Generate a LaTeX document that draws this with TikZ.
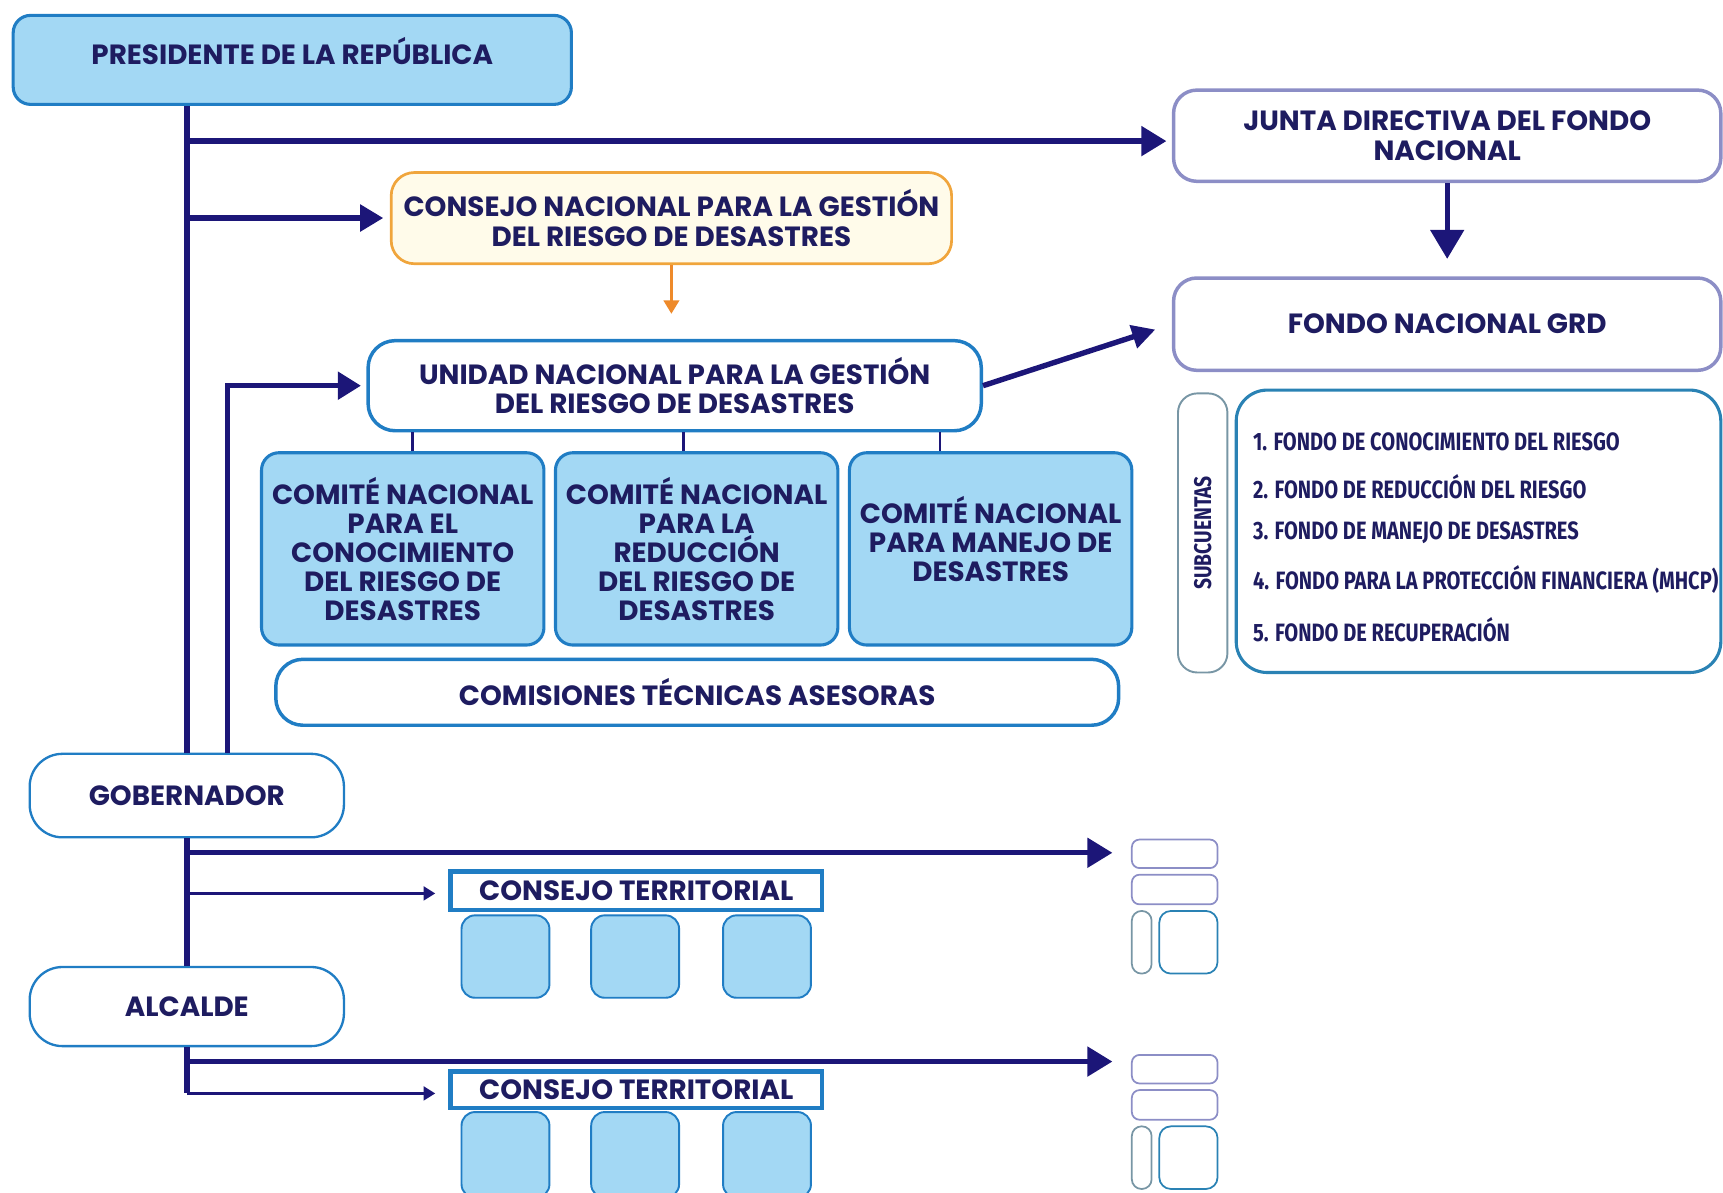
\documentclass[tikz,border=0pt]{standalone}
\usepackage{fontspec}
\setmainfont{Poppins}
\newfontfamily\narrowfont[FakeStretch=0.8]{Fira Sans}
\usetikzlibrary{arrows.meta,calc}

\definecolor{navy}{RGB}{28,22,120}
\definecolor{ink}{RGB}{30,28,96}
\definecolor{skyfill}{RGB}{163,216,244}
\definecolor{skyline}{RGB}{32,125,196}
\definecolor{lavline}{RGB}{140,142,198}
\definecolor{orangeline}{RGB}{240,165,60}
\definecolor{orangearrow}{RGB}{238,138,42}
\definecolor{creamfill}{RGB}{255,251,234}
\definecolor{grayline}{RGB}{120,150,165}
\definecolor{tealline}{RGB}{42,130,180}

\begin{document}
\begin{tikzpicture}[x=0.02cm, y=-0.02cm,
	every node/.style={font=\bfseries\fontsize{14.4}{15.3}\selectfont, text=ink, align=center, inner sep=0pt},
	sz/.style 2 args={minimum width=#1*0.02cm, minimum height=#2*0.02cm},
	bluebox/.style={draw=skyline, fill=skyfill, line width=1.6pt, rounded corners=9pt},
	combox/.style={bluebox, font=\bfseries\fontsize{14.4}{15}\selectfont},
	whitebox/.style={draw=skyline, fill=white, line width=1.8pt, rounded corners=14pt},
	govbox/.style={draw=skyline, fill=white, line width=1.2pt, rounded corners=17pt},
	lavbox/.style={draw=lavline, fill=white, line width=1.8pt, rounded corners=12pt},
	orangebox/.style={draw=orangeline, fill=creamfill, line width=1.4pt, rounded corners=12pt},
	ctbox/.style={draw=skyline, fill=white, line width=2.2pt},
	mini/.style={draw=lavline, line width=0.9pt, rounded corners=4pt},
	item/.style={anchor=west, font=\narrowfont\bfseries\fontsize{13}{15}\selectfont},
	link/.style={draw=navy, line width=2.8pt},
	stub/.style={draw=navy, line width=1.4pt},
	arr/.style={link, -{Triangle[length=13pt, width=15pt]}},
	thinarr/.style={draw=navy, line width=1.7pt, -{Triangle[length=6pt, width=7pt]}}
]
	\useasboundingbox (0,0) rectangle (1568,1085);
	
	% national level
	\node[bluebox, sz={508}{81}] (pres) at (266,54.5) {PRESIDENTE DE LA REPÚBLICA\\[-6pt]\mbox{}};
	\node[lavbox, sz={498}{83}] (junta) at (1317,123.5) {JUNTA DIRECTIVA DEL FONDO\\NACIONAL};
	\node[lavbox, sz={498}{84}] (fondo) at (1317,295) {FONDO NACIONAL GRD};
	\node[orangebox, sz={510}{83}] (consejo) at (611,198.5) {CONSEJO NACIONAL PARA LA GESTIÓN\\DEL RIESGO DE DESASTRES};
	\node[whitebox, sz={558}{82}] (unidad) at (614,351) {UNIDAD NACIONAL PARA LA GESTIÓN\\DEL RIESGO DE DESASTRES};
	\node[combox, sz={257}{175}] (com1) at (366.5,499.5) {COMITÉ NACIONAL\\PARA EL\\CONOCIMIENTO\\DEL RIESGO DE\\DESASTRES};
	\node[combox, sz={257}{175}] (com2) at (634,499.5) {COMITÉ NACIONAL\\PARA LA\\REDUCCIÓN\\DEL RIESGO DE\\DESASTRES};
	\node[combox, sz={257}{175}] (com3) at (901.5,499.5) {COMITÉ NACIONAL\\PARA MANEJO DE\\DESASTRES\\[-5pt]\mbox{}};
	\node[whitebox, sz={767}{60}] (comis) at (634.5,630) {COMISIONES TÉCNICAS ASESORAS};
	
	% subcuentas
	\node[draw=grayline, line width=1pt, rounded corners=10pt, rotate=90, sz={254}{45}, font=\narrowfont\bfseries\fontsize{12.5}{14}\selectfont] (subc) at (1094.5,485) {SUBCUENTAS};
	\node[draw=tealline, line width=1.6pt, rounded corners=16pt, sz={441}{257}] (lista) at (1345.5,483.5) {};
	\foreach \y/\t [count=\i] in {402/{1. FONDO DE CONOCIMIENTO DEL RIESGO},
			443/{2. FONDO DE REDUCCIÓN DEL RIESGO},
			485/{3. FONDO DE MANEJO DE DESASTRES},
			527/{4. FONDO PARA LA PROTECCIÓN FINANCIERA (MHCP)},
			573/{5. FONDO DE RECUPERACIÓN}}
		\node[item] (item\i) at (1140,\y) {\t};
	
	% territorial levels
	\node[govbox, sz={286}{76}] (gob) at (170,724) {GOBERNADOR};
	\node[govbox, sz={286}{72}] (alc) at (170,916) {ALCALDE};
	\node[ctbox, sz={338}{35}] (ct1) at (579,810.5) {CONSEJO TERRITORIAL};
	\node[ctbox, sz={338}{33}] (ct2) at (579,991.5) {CONSEJO TERRITORIAL};
	\foreach \x [count=\i] in {460,578,698} {
		\node[bluebox, line width=1pt, rounded corners=7pt, sz={80}{75}] (sqa\i) at (\x,870.5) {};
		\node[bluebox, line width=1pt, rounded corners=7pt, sz={80}{78}] (sqb\i) at (\x,1051) {};
	}
	\foreach \n/\b in {ma/764, mb/960} {
		\node[mini, sz={78}{26}] (\n1) at (1069,\b+13) {};
		\node[mini, sz={78}{27}] (\n2) at (1069,\b+45.5) {};
		\node[mini, draw=grayline, rounded corners=5pt, sz={18}{57}] (\n3) at (1039,\b+93.5) {};
		\node[mini, draw=tealline, rounded corners=6pt, sz={53}{57}] (\n4) at (1081.5,\b+93.5) {};
	}
	
	% connectors
	\coordinate (j1) at ($(pres.south -| gob.north)+(0,32)$);
	\coordinate (j2) at ($(pres.south -| gob.north)+(0,102)$);
	\coordinate (g1) at ($(gob.south)+(0,13)$);
	\coordinate (g2) at ($(gob.south)+(0,50)$);
	\coordinate (a1) at ($(alc.south)+(0,13)$);
	\coordinate (a2) at ($(alc.south)+(0,42)$);
	
	\path[link] (pres.south -| gob.north) edge (gob.north);
	\draw[arr, shorten >=2.8pt] (j1) -- (j1 -| junta.west);
	\draw[arr, -{Triangle[length=12pt, width=13.5pt]}, shorten >=3.4pt] (j2) -- (j2 -| consejo.west);
	\draw[arr, -{Triangle[length=12pt, width=14pt]}, shorten >=2.8pt] ($(gob.north)+(37,0)$) |- (unidad.west);
	\draw[draw=orangearrow, line width=1.5pt, -{Triangle[length=7pt, width=8pt]}, shorten >=13pt] (consejo.south) -- (consejo.south |- unidad.north);
	\draw[arr, -{Triangle[length=12pt, width=12pt]}, shorten >=9pt] (unidad.east) -- (fondo.west);
	\draw[arr, -{Triangle[length=15pt, width=17pt]}, shorten >=9pt] (junta.south) -- (fondo.north);
	\foreach \c/\dx in {com1/9, com2/-12, com3/-46}
		\draw[stub] ($(\c.north)+(\dx,0)$) coordinate (s) -- (s |- unidad.south);
	
	\path[link] (gob.south) edge (alc.north);
	\draw[arr, shorten >=9.6pt] (g1) -- (g1 -| ma1.west);
	\draw[thinarr, shorten >=6.8pt] (g2) -- (g2 -| ct1.west);
	\path[link] (alc.south) edge (a2);
	\draw[arr, shorten >=9.6pt] (a1) -- (a1 -| mb1.west);
	\draw[thinarr, shorten >=6.8pt] (a2) -- (a2 -| ct2.west);
	
\end{tikzpicture}
\end{document}
